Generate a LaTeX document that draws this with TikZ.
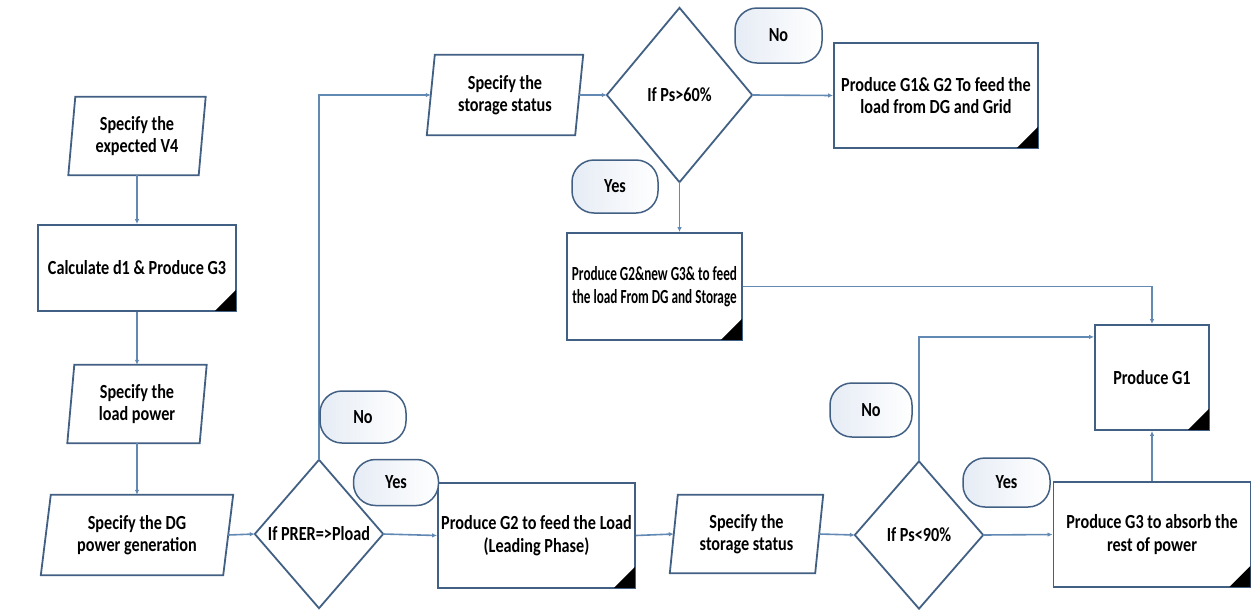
\documentclass[tikz,border=0pt]{standalone}
\usepackage{fontspec}
\setmainfont{Carlito}[FakeStretch=0.81]
\newfontfamily\narrowfont{Carlito}[FakeStretch=0.66]
\usetikzlibrary{arrows.meta,calc}

\definecolor{edgec}{RGB}{66,96,132}
\definecolor{linec}{RGB}{98,136,180}
\definecolor{pillc}{RGB}{230,236,245}

\begin{document}
\begin{tikzpicture}[x=1pt,y=-1pt,
  txt/.style={font=\fontsize{20}{22.5}\selectfont\bfseries, align=center, inner sep=0pt},
  procbox/.style={txt, draw=edgec, line width=1.8pt, fill=white},
  iobox/.style={txt},
  decbox/.style={txt},
  pill/.style={txt, draw=edgec, line width=1.5pt, rounded corners=22pt,
    left color=pillc, right color=white},
  conn/.style={draw=linec, line width=1.6pt, -{Latex[length=5pt,width=4.5pt]}},
  shapeline/.style={draw=edgec, line width=1.8pt, line join=miter},
]
\useasboundingbox (0,0) rectangle (1254,614);

% ---- process boxes ----
\node[procbox, minimum width=198pt, minimum height=86pt] (calc) at (137,268) {Calculate d1 \& Produce G3};
\node[procbox, minimum width=197pt, minimum height=105pt] (g2) at (536.5,535.5) {Produce G2 to feed the Load\\(Leading Phase)};
\node[procbox, minimum width=197pt, minimum height=105pt] (g3) at (1152,534.5) {Produce G3 to absorb the\\rest of power};
\node[procbox, minimum width=114pt, minimum height=105pt] (g1) at (1152,377.5) {Produce G1};
\node[procbox, minimum width=175pt, minimum height=107pt,
      font=\fontsize{20}{22.5}\narrowfont\bfseries] (g2n) at (654.5,286.5) {Produce G2\&new G3\& to feed\\the load From DG and Storage};
\node[procbox, minimum width=204pt, minimum height=105pt] (g12) at (936,95.5) {Produce G1\& G2 To feed the\\load from DG and Grid};

% black corner marks of the process boxes
\foreach \n in {calc,g2,g3,g1,g2n,g12}
  \fill[black] ($(\n.south east)+(-1,-1)$) -- ($(\n.south east)+(-22,-1)$) -- ($(\n.south east)+(-1,-22)$) -- cycle;

% ---- input/output (parallelogram) boxes ----
\node[iobox, minimum width=130pt, minimum height=78pt] (v4) at (137,136) {Specify the\\expected V4};
\node[iobox, minimum width=132pt, minimum height=78pt] (load) at (137,404) {Specify the\\load power};
\node[iobox, minimum width=182pt, minimum height=80pt] (dg) at (137,535) {Specify the DG\\power generation};
\node[iobox, minimum width=145pt, minimum height=78pt] (st2) at (746.5,534) {Specify the\\storage status};
\node[iobox, minimum width=148pt, minimum height=80pt] (st1) at (505,95) {Specify the\\storage status};

\foreach \n/\s in {v4/3.5,load/3.5,dg/5,st2/4,st1/4}
  \draw[shapeline] ($(\n.north west)+(\s,0)$) -- ($(\n.north east)+(\s,0)$)
    -- ($(\n.south east)-(\s,0)$) -- ($(\n.south west)-(\s,0)$) -- cycle;

% ---- decisions ----
\node[decbox, minimum width=128pt, minimum height=148pt] (d1) at (319,534) {If PRER=>Pload};
\node[decbox, minimum width=128pt, minimum height=147pt] (d2) at (919,535) {If Ps<90\%};
\node[decbox, minimum width=145pt, minimum height=174pt] (d3) at (679.5,95) {If Ps>60\%};

\foreach \n in {d1,d2,d3}
  \draw[shapeline] (\n.north) -- (\n.east) -- (\n.south) -- (\n.west) -- cycle;

% ---- connectors ----
\coordinate (g1in) at ($(g1.north west)!0.12!(g1.south west)$);
\draw[conn] (v4.south) -- (calc.north);
\draw[conn] (calc.south) -- (load.north);
\draw[conn] (load.south) -- (dg.north);
\draw[conn] (dg.east) -- (d1.west);
\draw[conn] (d1.north) |- (st1.west);
\draw[conn] (d1.east) -- (g2.west);
\draw[conn] (g2.east) -- (st2.west);
\draw[conn] (st2.east) -- (d2.west);
\draw[conn] (d2.east) -- (g3.west);
\draw[conn] (d2.north) |- (g1in);
\draw[conn] (g3.north) -- (g1.south);
\draw[conn] (st1.east) -- (d3.west);
\draw[conn] (d3.east) -- (g12.west);
\draw[conn] (d3.south) -- (d3.south |- g2n.north);
\draw[conn] (g2n.east) -| (g1.north);

% ---- branch labels ----
\node[pill, minimum width=86pt, minimum height=52pt] (no1) at (363,417) {No};
\node[pill, minimum width=85pt, minimum height=46pt] (yes1) at (396,482.5) {Yes};
\node[pill, minimum width=82pt, minimum height=54pt] (no2) at (871,410) {No};
\node[pill, minimum width=87pt, minimum height=49pt] (yes2) at (1006.5,482.5) {Yes};
\node[pill, minimum width=87pt, minimum height=55pt] (no3) at (778.5,35.5) {No};
\node[pill, minimum width=86pt, minimum height=53pt] (yes3) at (615,186.5) {Yes};
\end{tikzpicture}
\end{document}
